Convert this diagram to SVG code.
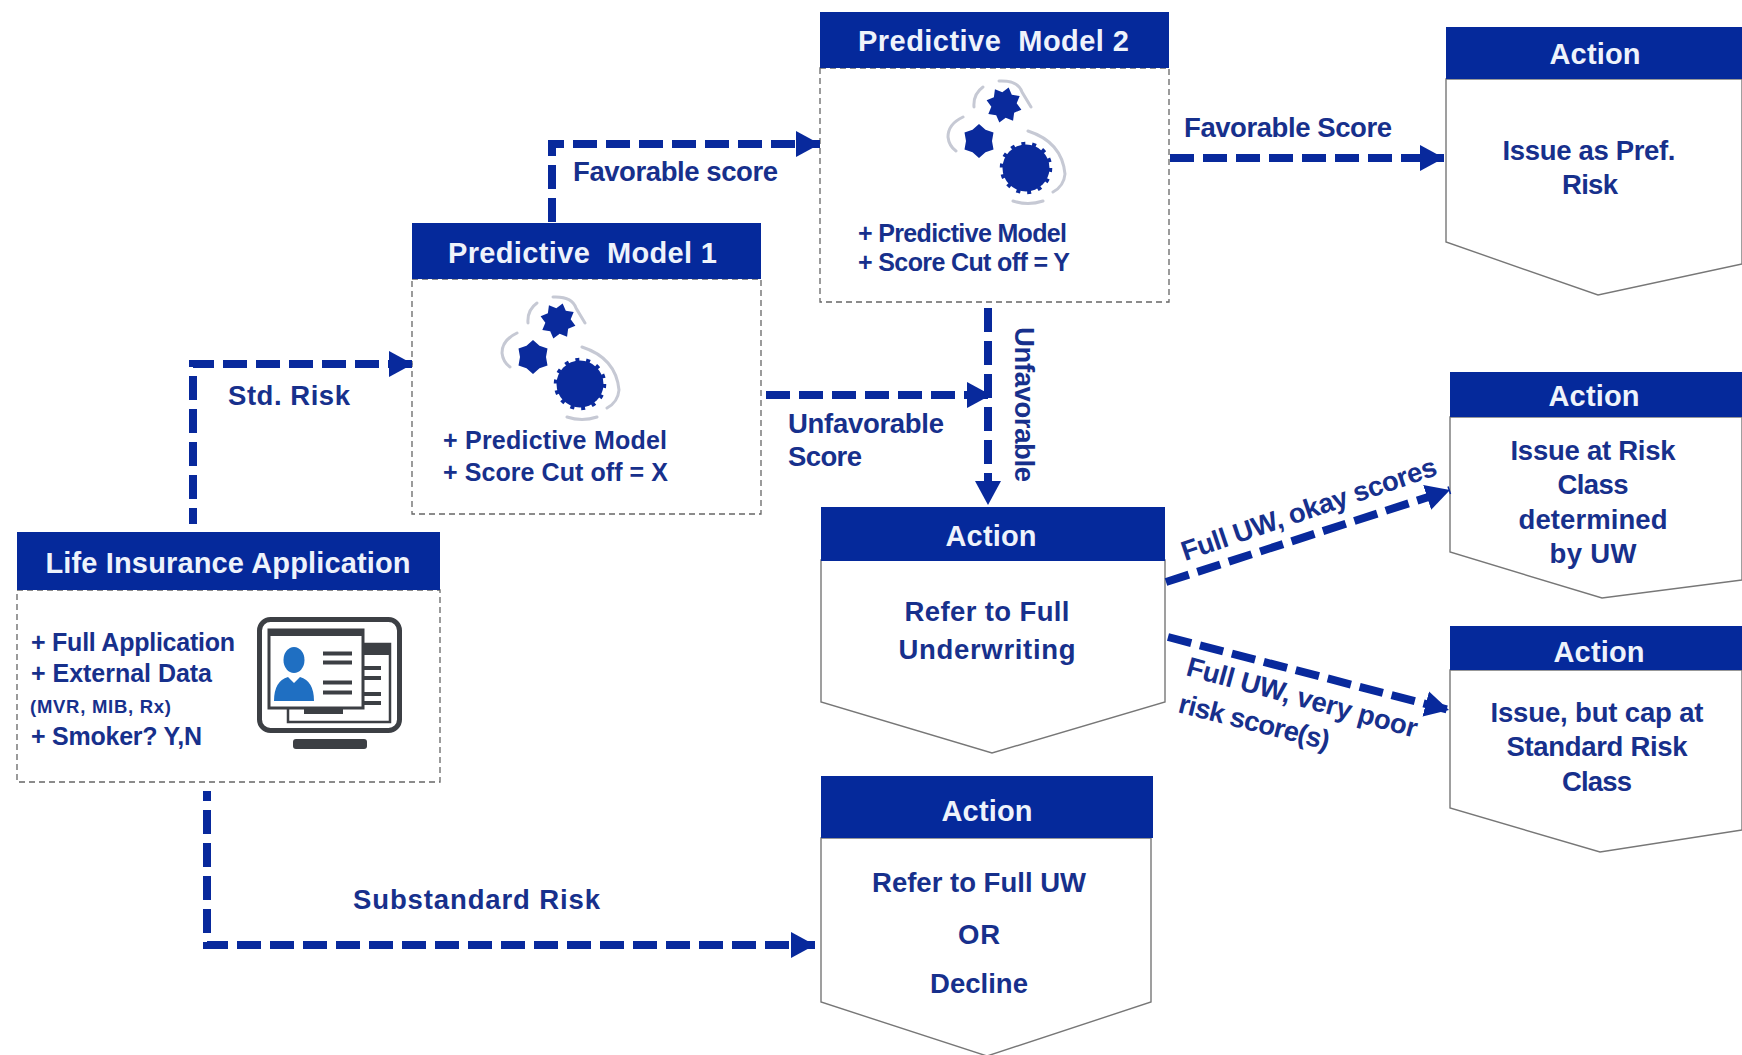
<svg xmlns="http://www.w3.org/2000/svg" width="1742" height="1055" viewBox="0 0 1742 1055">
<style>
text{font-family:"Liberation Sans",Arial,sans-serif;font-weight:700;fill:#17308c;white-space:pre}
.h{fill:#eef3fb;font-size:29px;text-anchor:middle}
.hb{fill:#05299b}
.b{font-size:27.500px}
.c{font-size:27.500px;text-anchor:middle}
.s{font-size:25px}
.box{fill:none;stroke:#666;stroke-width:1.3;stroke-dasharray:6 4}
.act{fill:#fff;stroke:#777;stroke-width:1.4}
.con{fill:none;stroke:#08299c;stroke-width:8;stroke-dasharray:24 9;marker-end:url(#arr)}
.g{fill:#0a2a9c}
.sh{fill:none;stroke:#c6c9d4;stroke-width:3;stroke-linecap:round}
.d{fill:#3c3f44}
.dl{stroke:#3c3f44;stroke-width:4}
</style>
<defs>
<marker id="arr" markerUnits="userSpaceOnUse" markerWidth="28" markerHeight="28" refX="24" refY="13" orient="auto"><path d="M0 0L24 13L0 26Z" fill="#08299c"/></marker>
<g id="gears">
<path class="sh" d="M553 297Q572 296 576 308L585 323M537 303Q527 310 528 323M517 333Q502 340 502 353Q503 362 510 367M582 347Q616 358 619 390Q618 402 607 408M567 417Q582 422 597 417"/>
<circle cx="580" cy="384" r="23.500" fill="#0a2a9c"/>
<circle cx="580" cy="384" r="24.500" fill="none" stroke="#0a2a9c" stroke-width="3.500" stroke-dasharray="4 7"/>
<polygon class="g" transform="translate(558,321) rotate(15)" points="18,0 11.800,4.900 12.800,12.800 4.900,11.800 0,18 -4.900,11.800 -12.800,12.800 -11.800,4.900 -18,0 -11.800,-4.900 -12.800,-12.800 -4.900,-11.800 0,-18 4.900,-11.800 12.800,-12.800 11.800,-4.900"/>
<polygon class="g" transform="translate(533,357)" points="0,-17 6.500,-11.300 14.500,-8.500 13,0 14.500,8.500 6.500,11.300 0,17 -6.500,11.300 -14.500,8.500 -13,0 -14.500,-8.500 -6.500,-11.300"/>
</g>
</defs>
<rect width="1742" height="1055" fill="#fff"/>

<g id="life-insurance-application">
<rect class="box" x="17" y="590" width="423" height="192"/>
<rect class="hb" x="17" y="532" width="423" height="58"/>
<text class="h" x="228" y="573" textLength="365">Life Insurance Application</text>
<text class="s" x="31" y="651" textLength="204">+ Full Application</text>
<text class="s" x="31" y="682" textLength="181">+ External Data</text>
<text x="30" y="713" font-size="18.500" textLength="141">(MVR, MIB, Rx)</text>
<text class="s" x="31" y="745" textLength="171">+ Smoker? Y,N</text>
<g id="monitor-icon">
<rect x="259.500" y="619.500" width="140" height="111" rx="11" fill="none" stroke="#3c3f44" stroke-width="5"/>
<rect x="288" y="644" width="102" height="78" fill="#fff" stroke="#3c3f44" stroke-width="2.500"/>
<rect class="d" x="363" y="644" width="27" height="11"/>
<rect x="269" y="630" width="94" height="78" fill="#fff" stroke="#3c3f44" stroke-width="3"/>
<rect class="d" x="269" y="630" width="94" height="6"/>
<rect class="d" x="304" y="708" width="39" height="6"/>
<ellipse cx="294" cy="660" rx="10.500" ry="13" fill="#1f6fc2"/>
<path d="M274 701Q274 681 288 677L294 683L300 677Q314 681 314 701Z" fill="#1f6fc2"/>
<path class="dl" d="M323 653.500H352M323 662.500H352M323 682.500H352M323 692.500H352M364 668H381M364 678H381M364 694H381M364 703H381"/>
<rect class="d" x="293" y="739" width="74" height="10" rx="3"/>
</g>
</g>

<g id="predictive-model-1">
<rect class="box" x="412" y="279" width="349" height="235"/>
<rect class="hb" x="412" y="223" width="349" height="56"/>
<text class="h" x="582.500" y="263" textLength="269">Predictive  Model 1</text>
<use href="#gears"/>
<text class="s" x="443" y="449" textLength="224">+ Predictive Model</text>
<text class="s" x="443" y="481" textLength="225">+ Score Cut off = X</text>
</g>

<g id="predictive-model-2">
<rect class="box" x="820" y="68" width="349" height="234"/>
<rect class="hb" x="820" y="12" width="349" height="56"/>
<text class="h" x="993.500" y="51" textLength="271">Predictive  Model 2</text>
<use href="#gears" transform="translate(446,-216)"/>
<text class="s" x="858" y="242" textLength="209">+ Predictive Model</text>
<text class="s" x="858" y="271" textLength="212">+ Score Cut off = Y</text>
</g>

<g id="action-pref">
<path class="act" d="M1446 79V242L1598 295L1742 264V79Z"/>
<rect class="hb" x="1446" y="27" width="296" height="52"/>
<text class="h" x="1595" y="64" textLength="91">Action</text>
<text class="c" x="1589" y="160" textLength="173">Issue as Pref.</text>
<text class="c" x="1590" y="194" textLength="56">Risk</text>
</g>

<g id="action-risk-class">
<path class="act" d="M1450 417V552L1602 598L1742 580V417Z"/>
<rect class="hb" x="1450" y="372" width="292" height="45"/>
<text class="h" x="1594" y="406" textLength="91">Action</text>
<text class="c" x="1593" y="460" textLength="165">Issue at Risk</text>
<text class="c" x="1593" y="494" textLength="71">Class</text>
<text class="c" x="1593" y="529" textLength="149">determined</text>
<text class="c" x="1593" y="563" textLength="87">by UW</text>
</g>

<g id="action-cap">
<path class="act" d="M1450 670V808L1600 852L1742 830V670Z"/>
<rect class="hb" x="1450" y="626" width="292" height="44"/>
<text class="h" x="1599" y="662" textLength="91">Action</text>
<text class="c" x="1597" y="722" textLength="213">Issue, but cap at</text>
<text class="c" x="1597" y="756" textLength="181">Standard Risk</text>
<text class="c" x="1597" y="791" textLength="70">Class</text>
</g>

<g id="action-full-uw">
<path class="act" d="M821 560V702L992 753L1165 702V560Z"/>
<rect class="hb" x="821" y="507" width="344" height="54"/>
<text class="h" x="991" y="546" textLength="91">Action</text>
<text class="c" x="987" y="621" textLength="165">Refer to Full</text>
<text class="c" x="987" y="659" textLength="177">Underwriting</text>
</g>

<g id="action-decline">
<path class="act" d="M821 838V1002L987 1056L1151 1002V838Z"/>
<rect class="hb" x="821" y="776" width="332" height="62"/>
<text class="h" x="987" y="821" textLength="91">Action</text>
<text class="c" x="979" y="892" textLength="214">Refer to Full UW</text>
<text class="c" x="979" y="944" textLength="42">OR</text>
<text class="c" x="979" y="993" textLength="98">Decline</text>
</g>

<g id="connectors">
<path class="con" d="M193 524V364H413" stroke-dashoffset="8"/>
<path class="con" d="M552 222V144H820"/>
<path class="con" d="M766 395H991"/>
<path class="con" d="M988 308V505"/>
<path class="con" d="M1170 158H1444"/>
<path class="con" d="M1166 582L1450 490"/>
<path class="con" d="M1168 637L1449 710"/>
<path class="con" d="M207 791V945H815" stroke-dashoffset="14"/>
<text class="b" x="228" y="405" textLength="122">Std. Risk</text>
<text class="b" x="573" y="181" textLength="205">Favorable score</text>
<text class="b" x="1184" y="137" textLength="208">Favorable Score</text>
<text class="b" x="788" y="433" textLength="156">Unfavorable</text>
<text class="b" x="788" y="466" textLength="74">Score</text>
<text class="b" transform="translate(1015,327) rotate(90)" textLength="155">Unfavorable</text>
<text class="b" x="353" y="909" textLength="247">Substandard Risk</text>
<text class="b" transform="translate(1185,561) rotate(-18.800)" textLength="268">Full UW, okay scores</text>
<text class="b" transform="translate(1185,675) rotate(15.300)" textLength="238">Full UW, very poor</text>
<text class="b" transform="translate(1177,712) rotate(14.200)" textLength="155">risk score(s)</text>
</g>
</svg>
